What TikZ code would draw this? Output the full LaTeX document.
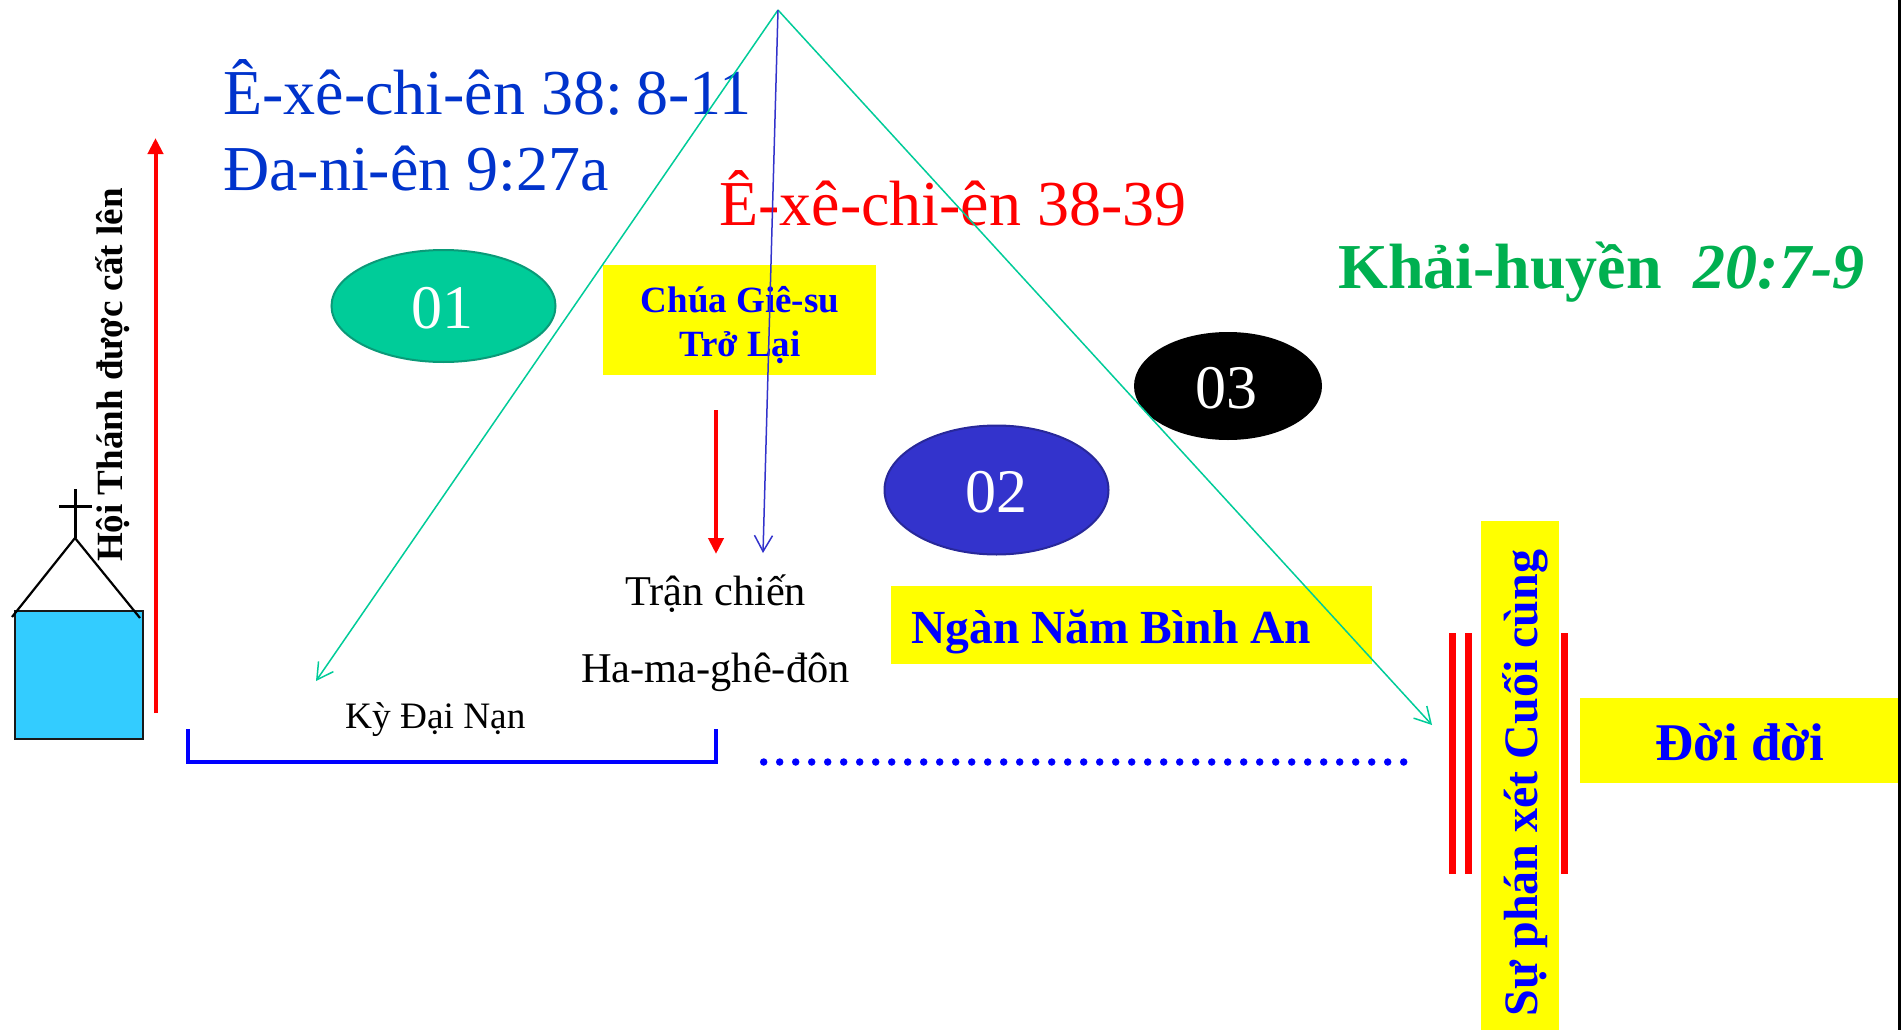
\documentclass[tikz,border=0pt]{standalone}
\usepackage{fontspec}
\setmainfont{Liberation Serif}
\usetikzlibrary{arrows.meta,shapes.geometric}
\definecolor{ybg}{HTML}{FFFF00}
\definecolor{pblue}{HTML}{0000FF}
\definecolor{pred}{HTML}{FF0000}
\definecolor{grn}{HTML}{00CC99}
\definecolor{grndk}{HTML}{0A9A78}
\definecolor{vio}{HTML}{3333CC}
\definecolor{viodk}{HTML}{28289A}
\definecolor{tblue}{HTML}{0033CC}
\definecolor{kh}{HTML}{00B050}
\definecolor{sky}{HTML}{33CCFF}
\tikzset{
  yb/.style={fill=ybg,draw=none,inner sep=0,text=pblue,font=\bfseries,align=center},
  oval/.style={ellipse,inner sep=0,line width=2pt,text=white},
  thinarrow/.style={line width=1.5pt,-{Straight Barb[length=16pt,width=18pt,line width=1.5pt]}},
  redbar/.style={fill=pred,draw=none,inner sep=0,minimum width=7pt,minimum height=241pt},
  fs/.style={font=\fontsize{#1}{#1}\selectfont},
  fsb/.style={font=\fontsize{#1}{#1}\selectfont\bfseries},
  lbl/.style={inner sep=0,anchor=base west},
}
\begin{document}
\begin{tikzpicture}[x=1pt,y=-1pt]
\useasboundingbox[fill=white] (0,0) rectangle (1903,1030);
% boxes
\node[yb,minimum width=78pt,minimum height=509pt] (judge) at (1520,775.5) {};
\node[yb,minimum width=318.5pt,minimum height=85pt] (eternal) at (1738.75,740.5) {};
\node[yb,minimum width=481pt,minimum height=78pt] (mill) at (1131.5,625) {};
\node[yb,minimum width=273pt,minimum height=110pt] (ret) at (739,320) {};
\node[redbar] (b1) at (1452.5,753.5) {};
\node[redbar] (b2) at (1468.5,753.5) {};
\node[redbar] (b3) at (1564.5,753.5) {};
\draw[line width=2.4pt,black] (1899.5,0) -- (1899.5,1030);
% ovals
\node[oval,fill=grn,draw=grndk,minimum width=224pt,minimum height=112pt] (o1) at (443.5,306) {};
\node[oval,fill=vio,draw=viodk,minimum width=224pt,minimum height=129pt] (o2) at (996.5,490) {};
\node[oval,fill=black,draw=black,minimum width=186pt,minimum height=106pt] (o3) at (1228,386) {};
\node[text=white,fs=62,inner sep=0,anchor=base] (n1) at (442.5,328.5) {01};
\node[text=white,fs=62,inner sep=0,anchor=base] (n2) at (996,512) {02};
\node[text=white,fs=62,inner sep=0,anchor=base] (n3) at (1226.5,408.5) {03};
% church
\node[rectangle,fill=sky,draw=black!90,line width=2pt,minimum width=128pt,minimum height=128pt,inner sep=0] (sq) at (79,675) {};
\coordinate (apex) at (75,538);
\coordinate (rl) at (12,617);
\coordinate (rr) at (140,618);
\coordinate (ct) at (75,489);
\coordinate (cl) at (59,506);
\coordinate (cr) at (92,506);
\draw[line width=2.2pt] (rl) -- (apex) -- (rr);
\draw[line width=3pt] (ct) -- (apex);
\draw[line width=3pt] (cl) -- (cr);
% red arrows
\coordinate (up0) at (155.5,713);
\coordinate (up1) at (155.5,138);
\draw[pred,line width=4pt,-{Triangle[length=16pt,width=15pt]}] (up0) -- (up1);
\coordinate (dn0) at (716,410);
\coordinate (dn1) at (716,554);
\draw[pred,line width=4pt,-{Triangle[length=16pt,width=15pt]}] (dn0) -- (dn1);
% bracket
\coordinate (ba) at (188,729);
\coordinate (bb) at (188,762);
\coordinate (bc) at (716,762);
\coordinate (bd) at (716,729);
\draw[pblue,line width=4pt] (ba) -- (bb) -- (bc) -- (bd);
\coordinate (da) at (763.7,762);
\coordinate (db) at (1405,762);
\draw[pblue,line width=7.5pt,line cap=round,dash pattern=on 0pt off 16pt] (da) -- (db);
% texts
\node[lbl,text=tblue,fs=64] (t1) at (223,115) {Ê-xê-chi-ên 38:\hspace{-8pt} 8-11};
\node[lbl,text=tblue,fs=64] (t2) at (223,190) {Đa-ni-ên 9:27a};
\node[lbl,text=pred,fs=64] (t3) at (719,225) {Ê-xê-chi-ên 38-39};
\node[lbl,text=kh,fsb=64] (t4) at (1338,288) {Khải-huyền\ \ \textit{20:7-9}};
\node[text=pblue,fsb=37,align=center,inner sep=0] (t5) at (740,325) {Chúa Giê-su\\[7pt]Trở Lại};
\node[lbl,text=pblue,fsb=47.5] (t6) at (911,643) {Ngàn Năm Bình An};
\node[lbl,fs=42.4] (t7) at (625,605) {Trận chiến};
\node[lbl,fs=42.4] (t8) at (581,682) {Ha-ma-ghê-đôn};
\node[lbl,fs=37.3] (t9) at (345,728) {Kỳ Đại Nạn};
\node[text=pblue,fsb=53,inner sep=0] (t10) at (1740,742) {Đời đời};
\node[text=pblue,fsb=48,inner sep=0,rotate=90,anchor=base] (t11) at (1537,783) {Sự phán xét Cuối cùng};
\node[fsb=37,inner sep=0,rotate=90,anchor=base] (t12) at (122,375) {Hội Thánh được cất lên};
% thin arrows
\coordinate (top) at (778,10);
\coordinate (kl) at (316,681);
\coordinate (kr) at (1432,725);
\coordinate (kb) at (763,553);
\draw[grn,thinarrow] (top) -- (kl);
\draw[grn,thinarrow] (top) -- (kr);
\draw[vio,thinarrow] (top) -- (kb);
\end{tikzpicture}
\end{document}
